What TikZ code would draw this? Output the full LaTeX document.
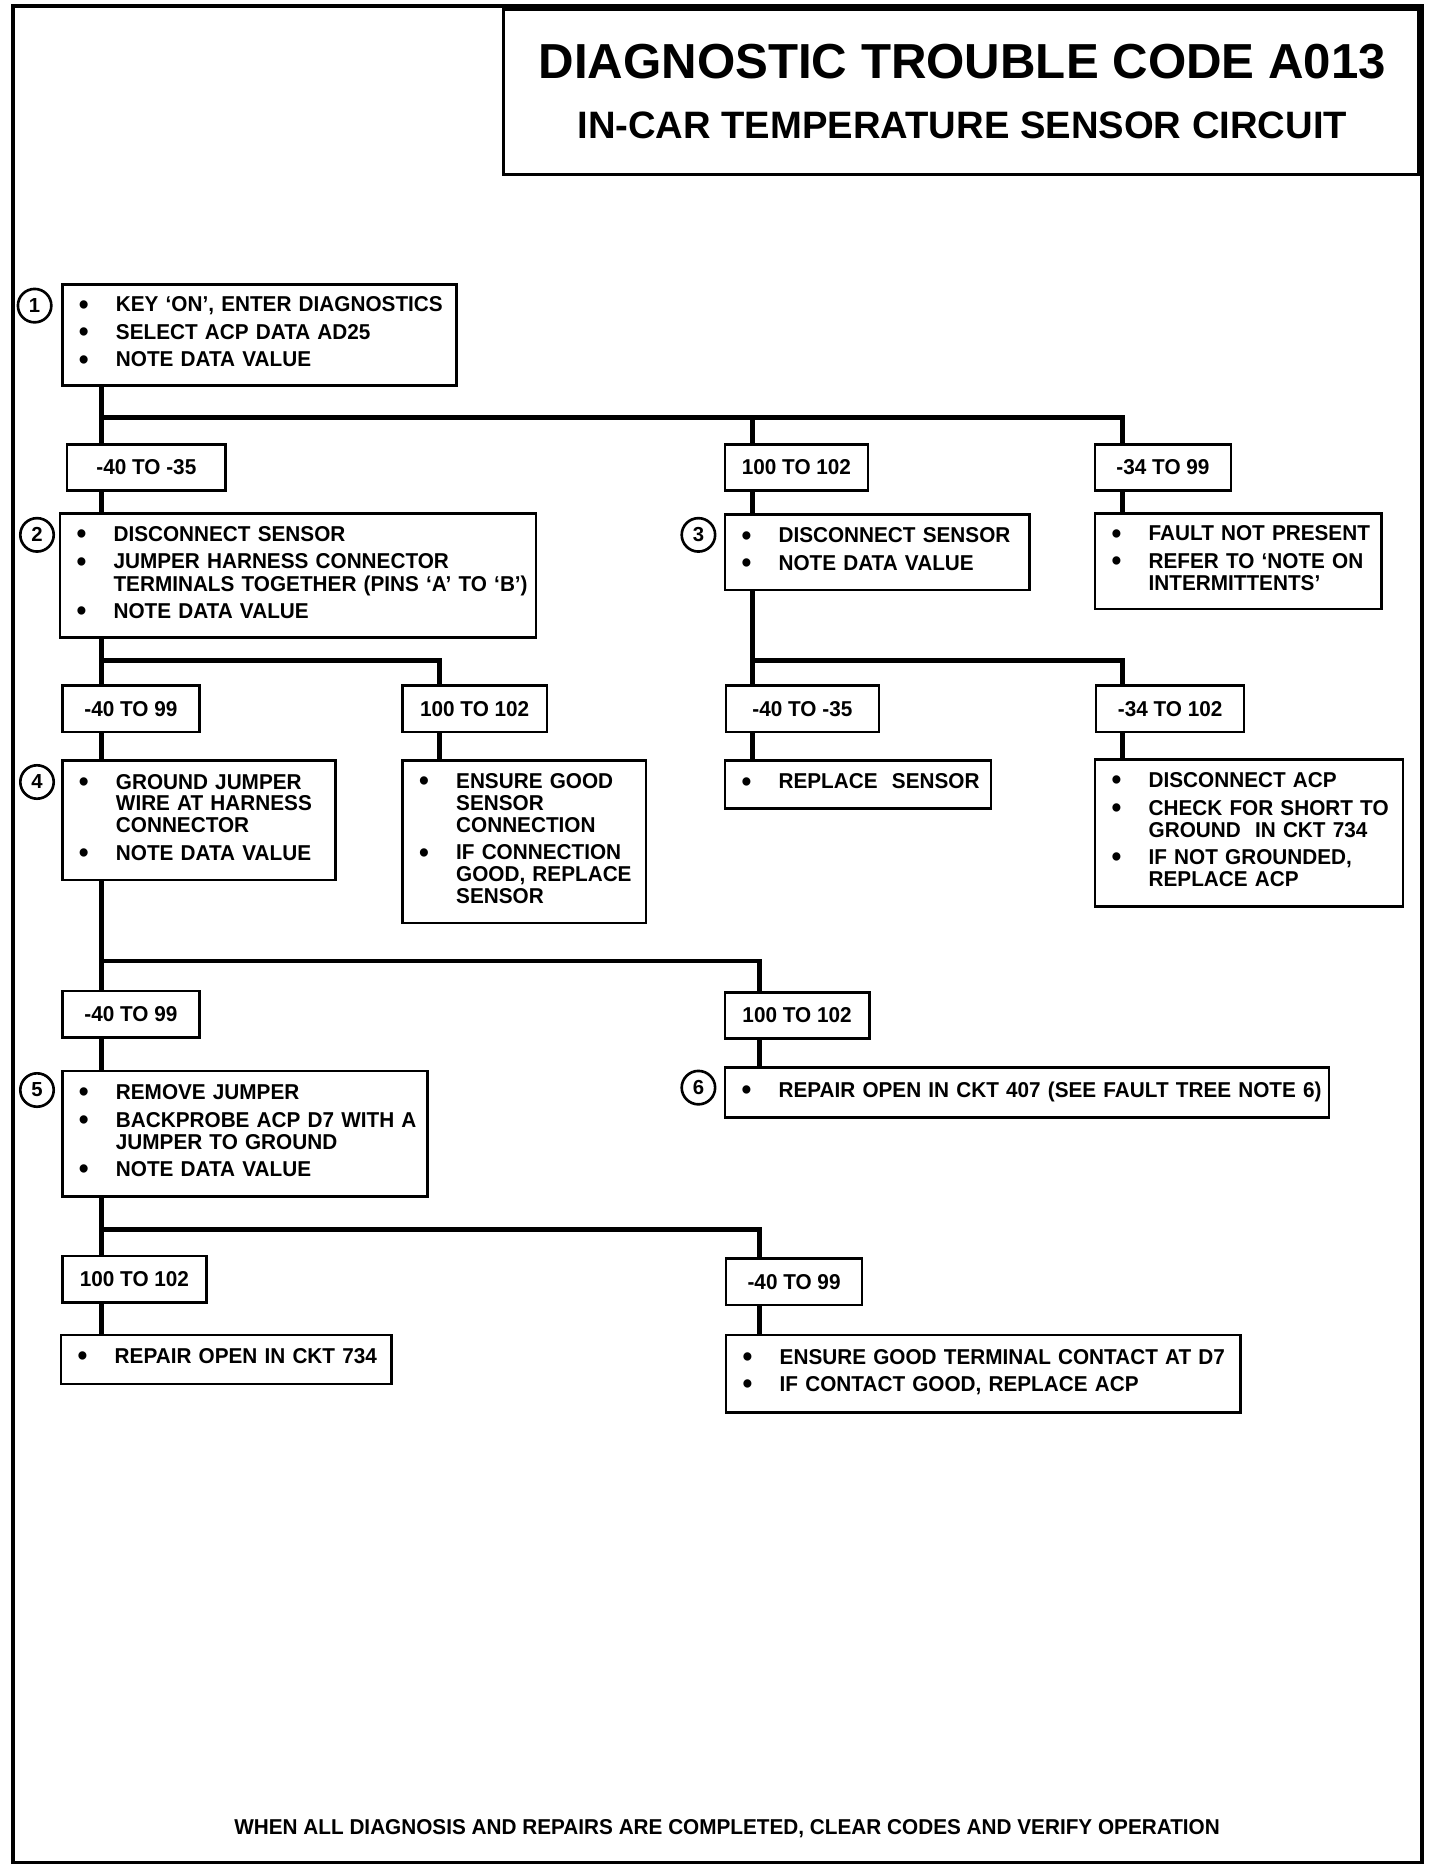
\documentclass[tikz,border=0pt]{standalone}
\usepackage{fontspec}
\setmainfont{Liberation Sans}
\newfontfamily\chartfont{Liberation Sans}[FakeStretch=0.965]
\usetikzlibrary{positioning,calc}

\newcommand{\blt}{\smash{\raisebox{-0.9pt}{\scalebox{1.35}{\textbullet}}}}
\newcommand{\steplist}[1]{\begin{tabular}{@{}p{15.5pt}@{}l@{}}#1\end{tabular}}

\begin{document}
\begin{tikzpicture}[x=0.5pt,y=-0.5pt,
    txt/.style={font=\chartfont\bfseries\fontsize{9}{9.2}\selectfont},
    stepbox/.style={draw,line width=1.1pt,anchor=north west,inner xsep=7pt,inner ysep=2pt,align=left,txt},
    rangebox/.style={draw,line width=1.1pt,anchor=north west,minimum height=19.5pt,inner sep=0pt,txt},
    stepnum/.style={draw,circle,line width=1.1pt,minimum size=14pt,inner sep=0pt,font=\bfseries\fontsize{8.5}{8.5}\selectfont},
    flow/.style={line width=2pt}]
    \useasboundingbox (0,0) rectangle (1206,1568);
    % frame and title
    \draw[line width=1.4pt] (11,5) rectangle (1191,1560);
    \draw[line width=1.4pt] (422,8) rectangle (1188,146);
    \node[font=\bfseries\fontsize{20.6}{24}\selectfont] (title) at (806,52) {DIAGNOSTIC TROUBLE CODE A013};
    \node[font=\bfseries\fontsize{16}{19}\selectfont] (subtitle) at (806,105) {IN-CAR TEMPERATURE SENSOR CIRCUIT};

    % steps
    \node[stepbox,text width=151pt,minimum height=42.5pt] (step1) at (51,237) {\steplist{
        \blt & KEY ‘ON’, ENTER DIAGNOSTICS\\[2.3pt]
        \blt & SELECT ACP DATA AD25\\[2.3pt]
        \blt & NOTE DATA VALUE}};
    \node[stepnum] (n1) at (29,256) {1};

    \node[rangebox,minimum width=66.5pt] (rng1a) at (55,371) {-40 TO -35};
    \node[rangebox,minimum width=60pt] (rng1b) at (606,371) {100 TO 102};
    \node[rangebox,minimum width=57pt] (rng1c) at (916,371) {-34 TO 99};

    \node[stepbox,text width=185.5pt,minimum height=52pt] (step2) at (49,429) {\steplist{
        \blt & DISCONNECT SENSOR\\[2.3pt]
        \blt & JUMPER HARNESS CONNECTOR\\
             & TERMINALS TOGETHER (PINS ‘A’ TO ‘B’)\\[2.3pt]
        \blt & NOTE DATA VALUE}};
    \node[stepnum] (n2) at (31,448) {2};

    \node[stepbox,text width=113.5pt,minimum height=31.5pt] (step3) at (606,430) {\steplist{
        \blt & DISCONNECT SENSOR\\[2.3pt]
        \blt & NOTE DATA VALUE}};
    \node[stepnum] (n3) at (585,448) {3};

    \node[stepbox,text width=106pt,minimum height=40pt] (fault) at (916,429) {\steplist{
        \blt & FAULT NOT PRESENT\\[2.3pt]
        \blt & REFER TO ‘NOTE ON\\
             & INTERMITTENTS’}};

    \node[rangebox,minimum width=57.5pt] (rng2a) at (51,573) {-40 TO 99};
    \node[rangebox,minimum width=60.5pt] (rng2b) at (336,573) {100 TO 102};
    \node[rangebox,minimum width=64pt] (rng2c) at (607,573) {-40 TO -35};
    \node[rangebox,minimum width=62pt] (rng2d) at (917,573) {-34 TO 102};

    \node[stepbox,text width=100.5pt,minimum height=50pt] (step4) at (51,636) {\steplist{
        \blt & GROUND JUMPER\\
             & WIRE AT HARNESS\\
             & CONNECTOR\\[2.3pt]
        \blt & NOTE DATA VALUE}};
    \node[stepnum] (n4) at (31,655) {4};

    \node[stepbox,text width=88pt,minimum height=68pt] (chkconn) at (336,636) {\steplist{
        \blt & ENSURE GOOD\\
             & SENSOR\\
             & CONNECTION\\[2.3pt]
        \blt & IF CONNECTION\\
             & GOOD, REPLACE\\
             & SENSOR}};

    \node[stepbox,text width=97.5pt,minimum height=20pt] (replsens) at (606,636) {\steplist{
        \blt & REPLACE~ SENSOR}};

    \node[stepbox,text width=115pt,minimum height=61.5pt] (discacp) at (916,635) {\steplist{
        \blt & DISCONNECT ACP\\[2.3pt]
        \blt & CHECK FOR SHORT TO\\
             & GROUND~ IN CKT 734\\[2.3pt]
        \blt & IF NOT GROUNDED,\\
             & REPLACE ACP}};

    \node[rangebox,minimum width=57.5pt] (rng3a) at (51,829) {-40 TO 99};
    \node[rangebox,minimum width=60.5pt] (rng3b) at (606,830) {100 TO 102};

    \node[stepbox,text width=139pt,minimum height=52.5pt] (step5) at (51,896) {\steplist{
        \blt & REMOVE JUMPER\\[2.3pt]
        \blt & BACKPROBE ACP D7 WITH A\\
             & JUMPER TO GROUND\\[2.3pt]
        \blt & NOTE DATA VALUE}};
    \node[stepnum] (n5) at (31,913) {5};

    \node[stepbox,text width=239pt,minimum height=21pt] (step6) at (606,893) {\steplist{
        \blt & REPAIR OPEN IN CKT 407 (SEE FAULT TREE NOTE 6)}};
    \node[stepnum] (n6) at (585,911) {6};

    \node[rangebox,minimum width=60.5pt] (rng4a) at (51,1051) {100 TO 102};
    \node[rangebox,minimum width=57pt] (rng4b) at (607,1053) {-40 TO 99};

    \node[stepbox,text width=124.5pt,minimum height=20.5pt] (open734) at (50,1117) {\steplist{
        \blt & REPAIR OPEN IN CKT 734}};
    \node[stepbox,text width=201.5pt,minimum height=32.5pt] (termd7) at (607,1117) {\steplist{
        \blt & ENSURE GOOD TERMINAL CONTACT AT D7\\[2.3pt]
        \blt & IF CONTACT GOOD, REPLACE ACP}};

    \node[txt] (footer) at (609,1532) {WHEN ALL DIAGNOSIS AND REPAIRS ARE COMPLETED, CLEAR CODES AND VERIFY OPERATION};

    % branch points
    \coordinate (j1) at (85,350);
    \coordinate (j1b) at (630,350);
    \coordinate (j1c) at (940,350);
    \coordinate (j2) at (85,553);
    \coordinate (j2b) at (368,553);
    \coordinate (j3) at (630,553);
    \coordinate (j3b) at (940,553);
    \coordinate (j4) at (85,805);
    \coordinate (j4b) at (636,805);
    \coordinate (j5) at (85,1030);
    \coordinate (j5b) at (636,1030);

    % connectors
    \draw[flow] (step1.south -| j1) -- (rng1a.north -| j1);
    \draw[flow] (j1) -- (j1c) -- (rng1c.north -| j1c);
    \draw[flow] (j1b) -- (rng1b.north -| j1b);
    \draw[flow] (rng1a.south -| j1) -- (step2.north -| j1);
    \draw[flow] (rng1b.south -| j1b) -- (step3.north -| j1b);
    \draw[flow] (rng1c.south -| j1c) -- (fault.north -| j1c);

    \draw[flow] (step2.south -| j2) -- (rng2a.north -| j2);
    \draw[flow] (j2) -- (j2b) -- (rng2b.north -| j2b);
    \draw[flow] (rng2a.south -| j2) -- (step4.north -| j2);
    \draw[flow] (rng2b.south -| j2b) -- (chkconn.north -| j2b);
    \draw[flow] (step3.south -| j3) -- (rng2c.north -| j3);
    \draw[flow] (j3) -- (j3b) -- (rng2d.north -| j3b);
    \draw[flow] (rng2c.south -| j3) -- (replsens.north -| j3);
    \draw[flow] (rng2d.south -| j3b) -- (discacp.north -| j3b);

    \draw[flow] (step4.south -| j4) -- (rng3a.north -| j4);
    \draw[flow] (j4) -- (j4b) -- (rng3b.north -| j4b);
    \draw[flow] (rng3a.south -| j4) -- (step5.north -| j4);
    \draw[flow] (rng3b.south -| j4b) -- (step6.north -| j4b);

    \draw[flow] (step5.south -| j5) -- (rng4a.north -| j5);
    \draw[flow] (j5) -- (j5b) -- (rng4b.north -| j5b);
    \draw[flow] (rng4a.south -| j5) -- (open734.north -| j5);
    \draw[flow] (rng4b.south -| j5b) -- (termd7.north -| j5b);
\end{tikzpicture}
\end{document}
